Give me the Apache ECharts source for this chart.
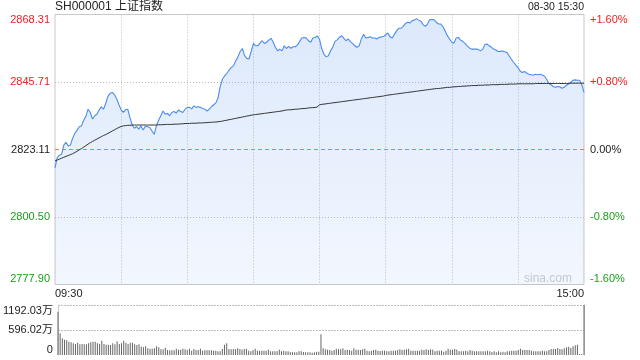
<!DOCTYPE html>
<html><head><meta charset="utf-8">
<script src="https://cdn.jsdelivr.net/npm/echarts@6/dist/echarts.min.js"></script>
<style>html,body{margin:0;padding:0;background:#fff}#c{width:640px;height:360px}</style>
</head><body><div id="c"></div>
<script>
const prevClose = 2823.11;
const titleText = 'SH000001 上证指数';
const dateText = '08-30 15:30';
const priceTicks = ['2777.90', '2800.50', '2823.11', '2845.71', '2868.31'];
const pctTicks = ['-1.60%', '-0.80%', '0.00%', '+0.80%', '+1.60%'];
const volTicks = ['0', '596.02万', '1192.03万'];
const volMax = 1192.03;

const price = [
  2817.0,2820.4,2821.2,2821.5,2824.6,2825.5,2824.3,2824.6,2826.9,2828.5,
  2829.6,2830.7,2831.0,2832.9,2834.2,2836.6,2835.5,2833.3,2834.4,2834.9,
  2836.3,2837.4,2836.6,2838.5,2840.9,2841.9,2842.2,2841.4,2840.0,2838.1,
  2836.4,2835.5,2836.4,2836.6,2833.8,2831.4,2830.2,2830.8,2829.9,2831.0,
  2829.6,2830.9,2830.7,2830.5,2829.3,2828.2,2831.0,2832.9,2834.4,2836.0,
  2834.9,2835.2,2834.4,2835.5,2835.8,2835.3,2836.3,2835.8,2835.5,2836.6,
  2837.2,2837.2,2836.7,2837.7,2837.2,2837.4,2837.2,2836.8,2836.6,2836.0,
  2836.6,2837.5,2838.1,2838.7,2840.5,2844.4,2846.7,2847.8,2848.6,2849.7,
  2850.6,2851.1,2852.8,2854.1,2855.9,2856.9,2854.5,2853.6,2853.4,2855.9,
  2858.6,2857.8,2857.8,2858.7,2859.5,2858.6,2859.0,2859.7,2860.3,2859.0,
  2857.3,2856.1,2856.7,2856.1,2857.8,2856.9,2857.6,2857.0,2857.5,2857.5,
  2858.1,2859.3,2860.4,2860.6,2860.4,2859.5,2859.0,2860.4,2860.6,2861.1,
  2860.0,2856.9,2855.0,2854.1,2854.5,2856.1,2857.3,2859.3,2859.8,2860.6,
  2861.2,2860.4,2859.5,2860.1,2859.2,2858.6,2857.8,2857.3,2857.8,2860.1,
  2861.7,2860.4,2860.6,2860.8,2860.4,2860.4,2860.1,2860.6,2860.8,2860.9,
  2861.5,2862.1,2860.8,2860.4,2861.7,2862.8,2863.7,2863.7,2864.3,2865.3,
  2865.7,2865.4,2866.2,2866.4,2866.9,2866.4,2866.0,2864.9,2864.3,2865.1,
  2866.5,2866.6,2866.5,2865.7,2865.1,2865.1,2864.2,2862.8,2861.2,2860.1,
  2859.0,2858.7,2860.4,2860.6,2859.7,2859.3,2858.6,2857.8,2857.1,2856.7,
  2856.7,2856.7,2856.6,2856.1,2856.6,2858.2,2858.4,2857.8,2857.3,2856.7,
  2856.4,2855.9,2855.9,2856.1,2855.8,2855.6,2854.5,2853.4,2852.3,2851.4,
  2850.6,2849.4,2848.9,2849.2,2848.7,2848.3,2848.1,2848.0,2848.3,2848.1,
  2848.3,2848.0,2847.7,2846.7,2845.3,2844.8,2844.2,2843.9,2844.2,2844.1,
  2843.6,2843.9,2844.6,2845.0,2845.6,2846.3,2846.4,2846.3,2846.3,2844.8,
  2842.2
];

const avgPrice = [
  2819.3,2819.6,2819.9,2820.2,2820.5,2820.8,2821.1,2821.4,2821.7,2822.1,
  2822.5,2823.0,2823.4,2823.9,2824.4,2824.9,2825.4,2825.8,2826.2,2826.6,
  2827.0,2827.4,2827.8,2828.1,2828.5,2828.9,2829.3,2829.7,2830.1,2830.5,
  2830.8,2831.0,2831.1,2831.2,2831.2,2831.3,2831.3,2831.3,2831.3,2831.3,
  2831.3,2831.3,2831.3,2831.3,2831.3,2831.3,2831.3,2831.4,2831.4,2831.4,
  2831.5,2831.5,2831.5,2831.5,2831.6,2831.6,2831.6,2831.7,2831.7,2831.8,
  2831.8,2831.8,2831.9,2831.9,2831.9,2832.0,2832.0,2832.0,2832.1,2832.1,
  2832.2,2832.2,2832.3,2832.3,2832.4,2832.5,2832.6,2832.8,2832.9,2833.1,
  2833.2,2833.4,2833.5,2833.7,2833.8,2834.0,2834.1,2834.3,2834.4,2834.6,
  2834.7,2834.8,2834.9,2835.0,2835.1,2835.2,2835.3,2835.4,2835.5,2835.6,
  2835.7,2835.8,2835.9,2836.0,2836.2,2836.3,2836.4,2836.4,2836.5,2836.6,
  2836.6,2836.7,2836.8,2836.8,2836.9,2837.0,2837.1,2837.1,2837.2,2837.3,
  2838.1,2838.2,2838.3,2838.4,2838.5,2838.6,2838.7,2838.8,2838.9,2839.0,
  2839.1,2839.2,2839.3,2839.4,2839.5,2839.6,2839.7,2839.8,2839.9,2840.0,
  2840.1,2840.2,2840.3,2840.4,2840.5,2840.6,2840.7,2840.8,2840.9,2841.0,
  2841.2,2841.3,2841.4,2841.5,2841.6,2841.7,2841.8,2841.9,2842.0,2842.1,
  2842.2,2842.3,2842.4,2842.5,2842.6,2842.7,2842.8,2842.9,2843.0,2843.1,
  2843.2,2843.3,2843.4,2843.5,2843.5,2843.6,2843.7,2843.8,2843.9,2843.9,
  2844.0,2844.1,2844.1,2844.2,2844.2,2844.3,2844.3,2844.4,2844.4,2844.5,
  2844.5,2844.5,2844.6,2844.6,2844.6,2844.7,2844.7,2844.7,2844.8,2844.8,
  2844.8,2844.8,2844.9,2844.9,2844.9,2844.9,2845.0,2845.0,2845.0,2845.0,
  2845.1,2845.1,2845.1,2845.1,2845.1,2845.1,2845.1,2845.1,2845.2,2845.2,
  2845.2,2845.2,2845.2,2845.2,2845.2,2845.2,2845.2,2845.2,2845.2,2845.2,
  2845.2,2845.2,2845.2,2845.2,2845.3,2845.3,2845.3,2845.3,2845.3,2845.3,
  2845.3
];

const volume = [
  1034,517,398,366,350,318,302,278,262,294,
  254,262,254,254,278,302,318,318,278,262,
  342,262,246,246,239,278,254,326,262,278,
  342,294,262,294,294,254,239,254,199,183,
  207,159,151,151,159,207,183,135,135,175,
  119,111,111,111,151,127,127,151,135,119,
  151,103,143,119,119,151,103,111,111,111,
  111,103,103,87,87,143,246,278,143,135,
  143,135,159,143,127,143,151,103,87,119,
  151,103,103,103,103,103,127,87,87,87,
  87,127,87,103,87,87,72,64,64,64,
  87,87,72,64,64,64,56,64,80,80,
  493,159,135,127,119,103,119,151,135,135,
  159,119,127,119,103,159,127,127,119,135,
  151,103,87,103,119,127,103,95,103,103,
  87,87,103,103,103,119,135,119,127,135,
  151,103,103,103,103,103,127,119,135,119,
  135,127,87,103,103,103,80,103,151,127,
  127,143,127,87,87,87,103,87,119,103,
  87,87,87,87,87,87,103,87,72,87,
  64,87,64,80,64,87,87,103,103,103,
  119,151,119,119,119,119,103,87,87,87,
  87,103,87,87,119,143,143,143,167,143,
  135,159,183,199,167,207,231,246,24,24,
  1192.03
];

const times = [];
function hm(m) { const h = Math.floor(m / 60), mm = m % 60; return (h < 10 ? '0' : '') + h + ':' + (mm < 10 ? '0' : '') + mm; }
for (let m = 9 * 60 + 30; m <= 11 * 60 + 30; m++) times.push(hm(m));
for (let m = 13 * 60 + 1; m <= 15 * 60; m++) times.push(hm(m));

const toPct = p => (p - prevClose) / prevClose * 100;
const priceSeries = price.map(toPct);
const avgSeries = avgPrice.map(toPct);

const FONT = '"Liberation Sans", Arial, "Noto Sans CJK SC", sans-serif';
const RED = '#f02020', GREEN = '#1a9e1a', BLACK = '#222';
const colorKey = i => (i > 2 ? 'r' : (i < 2 ? 'g' : 'k'));
const rich = {
  r: { color: RED, fontSize: 11, fontFamily: FONT },
  g: { color: GREEN, fontSize: 11, fontFamily: FONT },
  k: { color: BLACK, fontSize: 11, fontFamily: FONT }
};
const GRIDC = '#bdbdbd';
const ORANGE = '#f0804c';
const vInterval = (i) => i % 30 === 0 && i !== 0 && i !== 240;

const chart = echarts.init(document.getElementById('c'), null, { renderer: 'canvas' });
chart.setOption({
  animation: false,
  backgroundColor: '#fff',
  textStyle: { fontFamily: FONT },
  title: [
    { text: titleText, left: 55, top: 1, padding: 0, textStyle: { fontSize: 12, fontWeight: 'normal', color: '#222', fontFamily: FONT } },
    { text: dateText, right: 56, top: 2, padding: 0, textStyle: { fontSize: 10.5, fontWeight: 'normal', color: '#222', fontFamily: FONT } }
  ],
  graphic: [
    { type: 'text', right: 68, top: 273, style: { text: 'sina.com', fill: '#cccccc', font: '12px ' + FONT } }
  ],
  grid: [
    { left: 55, right: 56, top: 14.5, height: 270, show: true, borderColor: '#c8c8c8', borderWidth: 1 },
    { left: 55, right: 56, top: 305, height: 50 }
  ],
  xAxis: [
    {
      type: 'category', gridIndex: 0, data: times, boundaryGap: false,
      axisLine: { show: false }, axisTick: { show: false, interval: vInterval },
      axisLabel: {
        interval: (i) => i === 0 || i === 240,
        showMinLabel: true, showMaxLabel: true,
        alignMinLabel: 'left', alignMaxLabel: 'right',
        color: '#222', fontSize: 11, margin: 4, fontFamily: FONT
      },
      splitLine: { show: true, interval: vInterval, lineStyle: { color: GRIDC, type: [1, 2], width: 1 } }
    },
    {
      type: 'category', gridIndex: 1, data: times, boundaryGap: false,
      axisLine: { show: false }, axisTick: { show: false }, axisLabel: { show: false },
      splitLine: { show: false }
    }
  ],
  yAxis: [
    {
      type: 'value', gridIndex: 0, position: 'left', min: -1.6, max: 1.6, interval: 0.8,
      axisLine: { show: false }, axisTick: { show: false },
      axisLabel: {
        margin: 5, verticalAlignMaxLabel: 'top', verticalAlignMinLabel: 'bottom',
        formatter: v => { const i = Math.round((v + 1.6) / 0.8); return '{' + colorKey(i) + '|' + priceTicks[i] + '}'; },
        rich
      },
      splitLine: { show: true, lineStyle: { color: ['transparent', GRIDC, 'transparent', GRIDC, 'transparent'], type: [1, 2], width: 1 } }
    },
    {
      type: 'value', gridIndex: 0, position: 'right', min: -1.6, max: 1.6, interval: 0.8,
      axisLine: { show: false }, axisTick: { show: false },
      axisLabel: {
        margin: 6, verticalAlignMaxLabel: 'top', verticalAlignMinLabel: 'bottom',
        formatter: v => { const i = Math.round((v + 1.6) / 0.8); return '{' + colorKey(i) + '|' + pctTicks[i] + '}'; },
        rich
      },
      splitLine: { show: true, lineStyle: { color: ['transparent', 'transparent', ORANGE, 'transparent', 'transparent'], type: [4, 3], width: 1 } }
    },
    {
      type: 'value', gridIndex: 1, position: 'left', min: 0, max: volMax, interval: volMax / 2,
      axisLine: { show: true, lineStyle: { color: '#c8c8c8' } }, axisTick: { show: false },
      axisLabel: {
        margin: 5, color: '#222', fontSize: 11, fontFamily: FONT,
        verticalAlignMaxLabel: 'top', verticalAlignMinLabel: 'bottom',
        formatter: v => volTicks[Math.round(v / (volMax / 2))]
      },
      splitLine: { show: true, lineStyle: { color: ['transparent', GRIDC, GRIDC], type: [2, 1], width: 1 } }
    },
    {
      type: 'value', gridIndex: 1, position: 'right', min: 0, max: volMax,
      axisLine: { show: true, lineStyle: { color: '#c8c8c8' } }, axisTick: { show: false },
      axisLabel: { show: false }, splitLine: { show: false }
    }
  ],
  series: [
    {
      name: 'price', type: 'line', xAxisIndex: 0, yAxisIndex: 0, data: priceSeries,
      symbol: 'none', lineStyle: { color: '#4a8cf0', width: 1.1 },
      areaStyle: {
        origin: 'start',
        color: new echarts.graphic.LinearGradient(0, 0, 0, 1, [
          { offset: 0, color: 'rgba(80,140,238,0.28)' },
          { offset: 1, color: 'rgba(80,140,238,0.10)' }
        ])
      },
      z: 3
    },
    {
      name: 'avg', type: 'line', xAxisIndex: 0, yAxisIndex: 0, data: avgSeries,
      symbol: 'none', lineStyle: { color: '#333333', width: 1 }, z: 4
    },
    {
      name: 'volume', type: 'bar', xAxisIndex: 1, yAxisIndex: 2, data: volume,
      barWidth: 1, itemStyle: { color: '#666666' }
    }
  ]
});
</script>
</body></html>
